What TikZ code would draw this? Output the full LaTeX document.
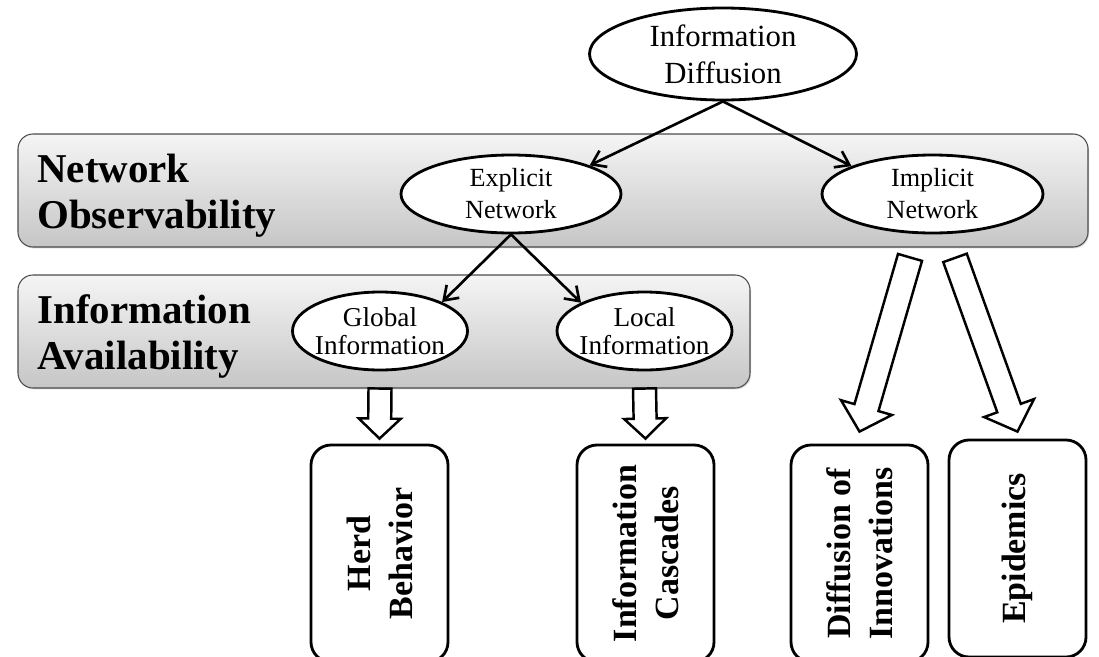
\documentclass[tikz,border=0pt]{standalone}
\usepackage{fontspec}
\setmainfont{Liberation Serif}
\usetikzlibrary{arrows.meta,shapes.geometric,calc,shadows}

% hollow block arrow: tail, tip, half shaft, half head, head length
\newcommand{\fatarrow}[5]{%
  \coordinate (fah) at ($(#2)!#5!(#1)$);
  \draw[fatline] ($(#1)!#3!90:(#2)$) -- ($(fah)!#3!-90:(#1)$) -- ($(fah)!#4!-90:(#1)$)
    -- (#2) -- ($(fah)!#4!90:(#1)$) -- ($(fah)!#3!90:(#1)$) -- ($(#1)!#3!-90:(#2)$) -- cycle;}

\begin{document}
\begin{tikzpicture}[>={Straight Barb[length=2.6mm,width=3.6mm]},
	band/.style={draw=gray!60!black, line width=0.6pt, rounded corners=0.3cm, top color=gray!8, bottom color=gray!45,
		drop shadow={shadow xshift=0.6pt, shadow yshift=-0.8pt, opacity=0.3}},
	bandlabel/.style={anchor=west, align=left, inner sep=0pt, font=\bfseries\fontsize{23.3}{26.2}\selectfont},
	topic/.style={ellipse, draw, line width=1.6pt, fill=white, inner xsep=-0.3cm, inner ysep=0pt, align=center},
	outcome/.style={draw, line width=1.6pt, rounded corners=0.4cm, fill=white, rotate=90, align=center,
		minimum width=4.34cm, minimum height=2.74cm, font=\bfseries\fontsize{19.3}{23.9}\selectfont},
	link/.style={->, line width=1.5pt},
	fatline/.style={draw, fill=white, line width=1.4pt, line join=miter}]
	\clip (0,0) rectangle (21.98,13.12);
	% layers
	\node[band, minimum width=21.40cm, minimum height=2.26cm] (obsband) at (11.06,9.31) {};
	\node[band, minimum width=14.64cm, minimum height=2.26cm] (avband) at (7.68,6.49) {};
	\node[bandlabel] (obslabel) at (0.74,9.21) {Network\\Observability};
	\node[bandlabel] (avlabel) at (0.74,6.39) {Information\\Availability};
	% ellipses
	\node[topic, minimum width=5.34cm, minimum height=1.84cm, font=\fontsize{17.5}{20.9}\selectfont] (diff) at (14.46,12.04) {Information\\Diffusion};
	\node[topic, minimum width=4.40cm, minimum height=1.56cm, font=\fontsize{14.9}{18.2}\selectfont] (expl) at (10.22,9.24) {Explicit\\Network};
	\node[topic, minimum width=4.42cm, minimum height=1.56cm, font=\fontsize{14.9}{18.2}\selectfont] (impl) at (18.65,9.24) {Implicit\\Network};
	\node[topic, minimum width=3.50cm, minimum height=1.56cm, font=\fontsize{15.5}{15.6}\selectfont] (glob) at (7.60,6.50) {Global\\Information};
	\node[topic, minimum width=3.50cm, minimum height=1.56cm, font=\fontsize{15.5}{15.6}\selectfont] (local) at (12.89,6.50) {Local\\Information};
	\draw[link] (diff.south) -- (expl.20);
	\draw[link] (diff.south) -- (impl.161);
	\draw[link] (expl.south) -- (glob.25);
	\draw[link] (expl.south) -- (local.156);
	% outcomes
	\node[outcome] (herd) at (7.59,2.05) {Herd\\Behavior};
	\node[outcome] (casc) at (12.91,2.05) {Information\\Cascades};
	\node[outcome] (innov) at (17.19,2.05) {Diffusion of\\Innovations};
	\node[outcome] (epi) at (20.35,2.15) {Epidemics};
	\coordinate (herdTail) at (glob.south |- avband.south);
	\coordinate (herdTip) at ([yshift=0.1cm]herd.east);
	\coordinate (cascTail) at (local.south |- avband.south);
	\coordinate (cascTip) at ([yshift=0.1cm]casc.east);
	\coordinate (innovTail) at ([shift={(-0.45,-0.46)}]impl.south);
	\coordinate (innovTip) at ([yshift=0.24cm]innov.east);
	\coordinate (epiTail) at ([shift={(0.45,-0.47)}]impl.south);
	\coordinate (epiTip) at ([yshift=0.14cm]epi.east);
	\fatarrow{herdTail}{herdTip}{0.23cm}{0.42cm}{0.40cm}
	\fatarrow{cascTail}{cascTip}{0.23cm}{0.42cm}{0.40cm}
	\fatarrow{innovTail}{innovTip}{0.25cm}{0.53cm}{0.50cm}
	\fatarrow{epiTail}{epiTip}{0.25cm}{0.53cm}{0.50cm}
\end{tikzpicture}
\end{document}
